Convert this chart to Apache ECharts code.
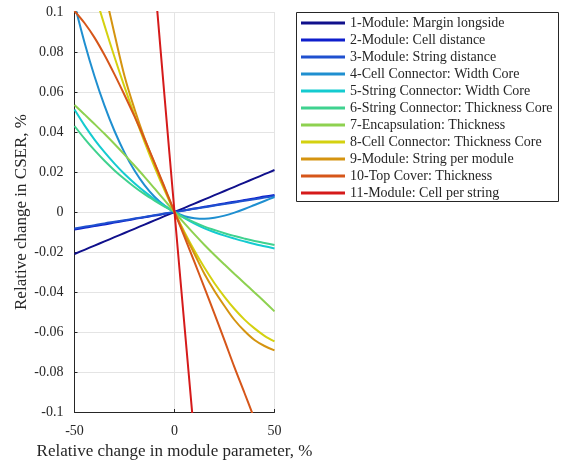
<!DOCTYPE html>
<html>
<head>
<meta charset="utf-8">
<script src="https://cdn.jsdelivr.net/npm/echarts@6/dist/echarts.min.js"></script>
<style>
  html, body { margin: 0; padding: 0; background: #fff; }
  #chart { width: 561px; height: 463px; }
</style>
</head>
<body>
<div id="chart"></div>
<script>
// Parameter sweep, percent change of each module parameter
const xValues = [-50, -45, -40, -35, -30, -25, -20, -15, -10, -5, 0, 5, 10, 15, 20, 25, 30, 35, 40, 45, 50];

const seriesNames = [
  '1-Module: Margin longside',
  '2-Module: Cell distance',
  '3-Module: String distance',
  '4-Cell Connector: Width Core',
  '5-String Connector: Width Core',
  '6-String Connector: Thickness Core',
  '7-Encapsulation: Thickness',
  '8-Cell Connector: Thickness Core',
  '9-Module: String per module',
  '10-Top Cover: Thickness',
  '11-Module: Cell per string'
];

// Relative change in CSER (%) at each xValues entry; null = not computed / far off scale
const marginLongside = [-0.021, -0.0189, -0.0168, -0.0147, -0.0126, -0.0105, -0.0084, -0.0063, -0.0042, -0.0021, 0, 0.0021, 0.0042, 0.0063, 0.0084, 0.0105, 0.0126, 0.0147, 0.0168, 0.0189, 0.021];
const cellDistance = [-0.0088, -0.0079, -0.0070, -0.0062, -0.0053, -0.0044, -0.0035, -0.0026, -0.0018, -0.0009, 0, 0.0009, 0.0017, 0.0026, 0.0034, 0.0043, 0.0051, 0.0060, 0.0068, 0.0077, 0.0085];
const stringDistance = [-0.0082, -0.0074, -0.0066, -0.0057, -0.0049, -0.0041, -0.0033, -0.0025, -0.0016, -0.0008, 0, 0.0008, 0.0016, 0.0024, 0.0032, 0.0040, 0.0048, 0.0056, 0.0064, 0.0072, 0.0080];
const cellConnWidth = [0.104, 0.0848, 0.0679, 0.0532, 0.0405, 0.0297, 0.0207, 0.0134, 0.0076, 0.0032, 0, -0.0021, -0.0031, -0.0034, -0.0029, -0.0018, -0.0003, 0.0015, 0.0035, 0.0055, 0.0075];
const stringConnWidth = [0.0512, 0.0433, 0.0362, 0.0299, 0.0242, 0.0190, 0.0144, 0.0102, 0.0064, 0.0031, 0, -0.0031, -0.0058, -0.0082, -0.0101, -0.0118, -0.0133, -0.0147, -0.0160, -0.0171, -0.0182];
const stringConnThick = [0.0430, 0.0367, 0.0309, 0.0256, 0.0208, 0.0165, 0.0125, 0.0089, 0.0057, 0.0027, 0, -0.0028, -0.0052, -0.0073, -0.0090, -0.0106, -0.0120, -0.0133, -0.0145, -0.0155, -0.0165];
const encapsThick = [0.0535, 0.0488, 0.0440, 0.0391, 0.0340, 0.0287, 0.0232, 0.0176, 0.0118, 0.0059, 0, -0.0057, -0.0112, -0.0165, -0.0215, -0.0263, -0.0310, -0.0356, -0.0402, -0.0449, -0.0497];
const cellConnThick = [null, null, 0.1098, 0.0933, 0.0775, 0.0626, 0.0485, 0.0351, 0.0226, 0.0109, 0, -0.0101, -0.0194, -0.0279, -0.0356, -0.0424, -0.0485, -0.0538, -0.0582, -0.0619, -0.0647];
const stringsPerModule = [null, null, null, 0.111, 0.089, 0.068, 0.0515, 0.037, 0.0243, 0.012, 0, -0.011, -0.021, -0.031, -0.0395, -0.047, -0.054, -0.0595, -0.064, -0.067, -0.0692];
const topCoverThick = [0.1005, 0.0945, 0.0872, 0.0785, 0.0688, 0.0585, 0.0478, 0.0365, 0.0247, 0.0125, 0, -0.0125, -0.0251, -0.0379, -0.0509, -0.0642, -0.0777, -0.0905, -0.1035, null, null];
const cellsPerString = [null, null, null, null, null, null, null, null, 0.117, 0.058, 0, -0.057, -0.1135, null, null, null, null, null, null, null, null];

const seriesValues = [
  marginLongside, cellDistance, stringDistance, cellConnWidth, stringConnWidth,
  stringConnThick, encapsThick, cellConnThick, stringsPerModule, topCoverThick, cellsPerString
];

const seriesColors = [
  '#10108c', '#0e1ecc', '#1f50cf', '#1f8fd0', '#14cbd0',
  '#3fd28f', '#8ed150', '#d4d110', '#d59410', '#d6561a', '#d51a1a'
];

const xTicks = { min: -50, max: 50, step: 50 };
const yTicks = { min: -0.1, max: 0.1, step: 0.02 };

const serif = 'Liberation Serif, Times New Roman, serif';
const ink = '#262626';

const chart = echarts.init(document.getElementById('chart'), null, { renderer: 'canvas' });

const series = seriesNames.map((name, i) => ({
  type: 'line',
  name: name,
  data: xValues.map((x, j) => [x, seriesValues[i][j]]).filter(p => p[1] !== null),
  showSymbol: false,
  smooth: 0.35,
  clip: true,
  lineStyle: { width: 2, color: seriesColors[i] },
  itemStyle: { color: seriesColors[i] },
  emphasis: { disabled: true },
  z: 2 + i
}));

chart.setOption({
  animation: false,
  backgroundColor: '#ffffff',
  grid: { left: 74.5, top: 12, width: 200, height: 400, containLabel: false, outerBoundsMode: 'none' },
  xAxis: {
    type: 'value',
    min: xTicks.min, max: xTicks.max, interval: xTicks.step,
    name: 'Relative change in module parameter, %',
    nameLocation: 'middle',
    nameGap: 31,
    nameTextStyle: { fontFamily: serif, fontSize: 17, color: ink },
    axisLine: { show: true, onZero: false, lineStyle: { color: ink, width: 1 } },
    axisTick: { show: true, inside: true, length: 3, lineStyle: { color: ink } },
    axisLabel: { fontFamily: serif, fontSize: 14, color: ink, margin: 12 },
    splitLine: { show: true, lineStyle: { color: '#e4e4e4', width: 1 } }
  },
  yAxis: {
    type: 'value',
    min: yTicks.min, max: yTicks.max, interval: yTicks.step,
    name: 'Relative change in CSER, %',
    nameLocation: 'middle',
    nameGap: 43,
    nameTextStyle: { fontFamily: serif, fontSize: 17, color: ink },
    axisLine: { show: true, onZero: false, lineStyle: { color: ink, width: 1 } },
    axisTick: { show: true, inside: true, length: 3, lineStyle: { color: ink } },
    axisLabel: {
      fontFamily: serif, fontSize: 14, color: ink, margin: 11,
      formatter: v => String(Math.round(v * 100) / 100)
    },
    splitLine: { show: true, lineStyle: { color: '#e4e4e4', width: 1 } }
  },
  legend: {
    orient: 'vertical',
    left: 301,
    top: 16,
    padding: 0,
    itemGap: 3,
    itemWidth: 44,
    itemHeight: 3,
    icon: 'rect',
    selectedMode: false,
    data: seriesNames,
    textStyle: { fontFamily: serif, fontSize: 14, lineHeight: 14, color: ink }
  },
  graphic: [{
    type: 'rect',
    z: 0,
    shape: { x: 296.5, y: 12.5, width: 262, height: 189 },
    style: { fill: 'none', stroke: ink, lineWidth: 1 }
  }],
  series: series
});
</script>
</body>
</html>
